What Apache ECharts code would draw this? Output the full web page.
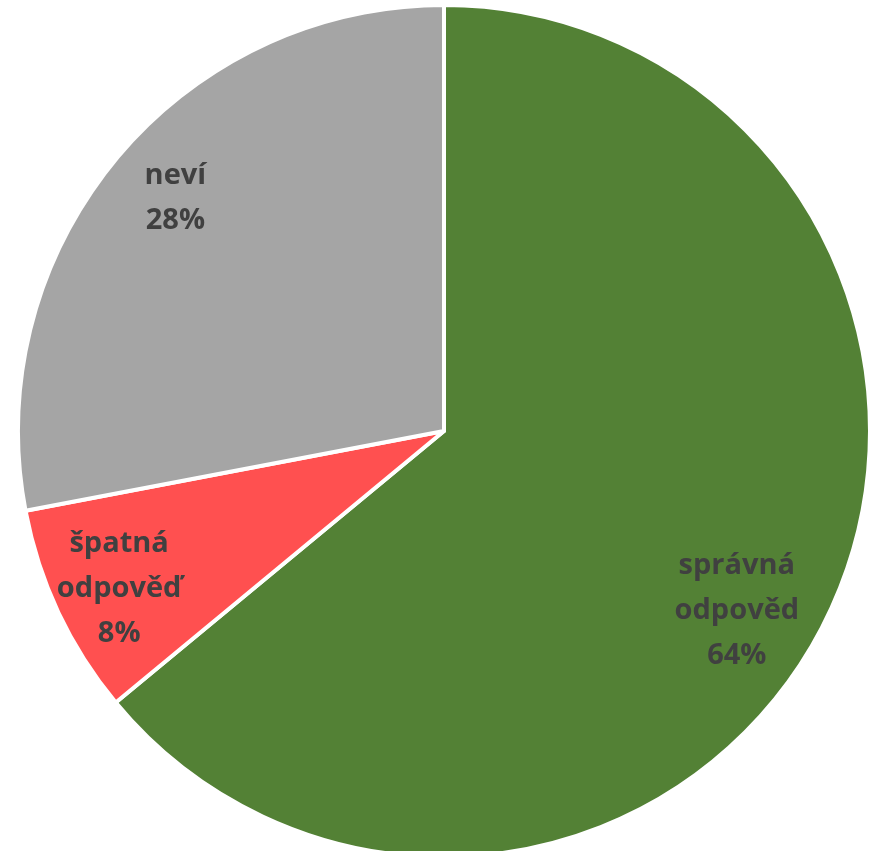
<!DOCTYPE html>
<html>
<head>
<meta charset="utf-8">
<script src="https://cdn.jsdelivr.net/npm/echarts@6/dist/echarts.min.js"></script>
<style>
html,body{margin:0;padding:0;background:#fff;}
#chart{width:879px;height:851px;}
</style>
</head>
<body>
<div id="chart"></div>
<script>
var categories = ['správná\nodpověd', 'špatná\nodpověď', 'neví'];
var values = [64, 8, 28];
var colors = ['#538135', '#FF5050', '#A5A5A5'];

var chart = echarts.init(document.getElementById('chart'), null, {renderer: 'canvas'});
var pieData = categories.map(function (c, i) {
  return {name: c, value: values[i], itemStyle: {color: colors[i]}};
});
var labelData = categories.map(function (c, i) {
  return {name: c, value: values[i]};
});
var labelShift = [[-32, 27], [0, 5], [8, -4]];
chart.setOption({
  backgroundColor: '#ffffff',
  animation: false,
  series: [
    {
      type: 'pie',
      center: [444, 431],
      radius: 426,
      startAngle: 90,
      clockwise: true,
      silent: true,
      itemStyle: {borderColor: '#ffffff', borderWidth: 4},
      label: {show: false},
      labelLine: {show: false},
      data: pieData
    },
    {
      type: 'pie',
      center: [444, 431],
      radius: 712,
      startAngle: 90,
      clockwise: true,
      silent: true,
      itemStyle: {color: 'rgba(0,0,0,0)'},
      label: {
        show: true,
        position: 'inside',
        formatter: function (p) { return p.name + '\n' + p.value + '%'; },
        color: '#404040',
        fontFamily: 'Open Sans',
        fontWeight: 'bold',
        fontSize: 29,
        lineHeight: 45,
        align: 'center'
      },
      labelLayout: function (p) {
        var s = labelShift[p.dataIndex] || [0, 0];
        return {dx: s[0], dy: s[1]};
      },
      labelLine: {show: false},
      data: labelData
    }
  ]
});
</script>
</body>
</html>
